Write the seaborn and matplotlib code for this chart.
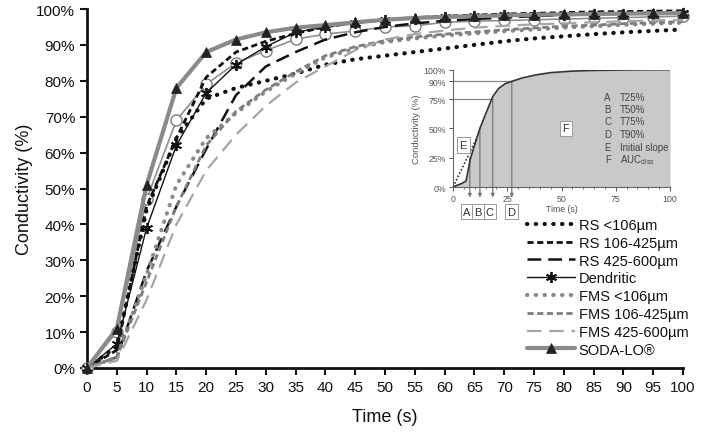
import numpy as np
import pandas as pd
import matplotlib
matplotlib.use("Agg")
import matplotlib.pyplot as plt
import seaborn as sns
from matplotlib.ticker import PercentFormatter, MultipleLocator

# ---------------- data ----------------
time_s = [0, 5, 10, 15, 20, 25, 30, 35, 40, 45, 50, 55, 60, 65, 70, 75, 80, 85, 90, 95, 100]

rs_lt106 = [0, 6, 44, 64, 75, 78, 80, 82, 84.5, 86, 87, 88, 89, 90, 91, 91.8, 92.4, 93, 93.5, 93.9, 94.3]
rs_106_425 = [0, 5, 45, 64, 81, 88, 91, 93.2, 95, 96.2, 97, 97.6, 98, 98.3, 98.6, 98.8, 99, 99.2, 99.3, 99.4, 99.5]
rs_425_600 = [0, 3, 27, 45, 61, 76, 84, 88, 91.5, 93.5, 95, 96, 96.7, 97.2, 97.6, 98, 98.3, 98.5, 98.7, 98.9, 99]
dendritic = [0, 6.7, 39, 62, 76.6, 84.5, 89.5, 93.5, 95, 96, 96.8, 97.3, 97.7, 98, 98.2, 98.3, 98.4, 98.5, 98.6, 98.7, 98.8]
fms_lt106 = [0, 3, 26, 51, 64, 71, 77, 82, 86.5, 89, 90.8, 91.8, 92.6, 93.2, 93.8, 94.3, 94.8, 95.2, 95.6, 95.9, 96.2]
fms_106_425 = [0, 3, 24, 45, 62, 71.5, 77.5, 82.5, 87, 89.5, 91.2, 92.2, 93, 93.6, 94.2, 94.7, 95.2, 95.5, 95.9, 96.2, 96.5]
fms_425_600 = [0, 2, 19, 40, 55, 65, 73, 79.5, 84, 88.5, 91.5, 93, 94, 94.8, 95.3, 95.7, 96, 96.3, 96.6, 96.8, 97]
soda_lo = [0, 11, 51, 78, 88, 91.5, 93.5, 94.8, 95.5, 96.3, 97, 97.5, 97.8, 98, 98.2, 98.4, 98.5, 98.6, 98.7, 98.8, 98.9]
open_circle = [0, 10, 47, 69, 79, 85, 88.4, 91.6, 93, 93.9, 95, 95.3, 96.3, 96.6, 96.8, 97, 97.2, 97.4, 97.6, 97.8, 98]

legend_labels = ["RS <106µm", "RS 106-425µm", "RS 425-600µm", "Dendritic",
                 "FMS <106µm", "FMS 106-425µm", "FMS 425-600µm", "SODA-LO®"]

x_ticks = list(range(0, 101, 5))
y_ticks = list(range(0, 101, 10))

# inset (schematic) data
inset_t = [0, 2, 4, 6, 8, 11, 12.4, 15, 18.3, 21, 24, 27, 32, 38, 45, 55, 65, 80, 100]
inset_v = [0, 1.5, 3, 5, 24, 42, 50, 62, 77, 84, 88, 90, 93, 95.5, 97.5, 98.8, 99.4, 99.8, 100]
slope_t = [0, 11]
slope_v = [0, 42]
inset_marks_t = [7.75, 12.4, 18.3, 27.1]
inset_marks_v = [25, 50, 75, 90]
inset_letters = ["A", "B", "C", "D"]
inset_box_x = [6.2, 11.6, 17.0, 27.0]
inset_key_letters = ["A", "B", "C", "D", "E", "F"]
inset_key_text = ["T25%", "T50%", "T75%", "T90%", "Initial slope", r"AUC$_{\mathregular{diss}}$"]
inset_key_y = [77, 66.5, 56, 45.3, 34.5, 24]
inset_xticks = [0, 25, 50, 75, 100]
inset_yticks = [0, 25, 50, 75, 90, 100]

# ---------------- style ----------------
sns.set_theme(style="ticks")
plt.rcParams["font.family"] = ["Liberation Sans", "DejaVu Sans"]

fig = plt.figure(figsize=(7.03, 4.35), dpi=100)
ax = fig.add_axes([87 / 703, 1 - 369 / 435, (683 - 87) / 703, (369 - 10) / 435])

black = "#111111"
series = [
    (rs_lt106, dict(color=black, lw=3.0, linestyle=(0, (0.1, 2.0)), dash_capstyle="round")),
    (rs_106_425, dict(color=black, lw=2.0, linestyle=(0, (2.2, 1.3)))),
    (rs_425_600, dict(color=black, lw=1.8, linestyle=(0, (5.5, 2.8)))),
    (dendritic, dict(color=black, lw=1.0, marker=(6, 2, 0), markersize=8, mew=1.3,
                     mec=black, mfc=black)),
    (fms_lt106, dict(color="#8a8a8a", lw=3.0, linestyle=(0, (0.1, 2.0)), dash_capstyle="round")),
    (fms_106_425, dict(color="#7d7d7d", lw=2.0, linestyle=(0, (2.2, 1.3)))),
    (fms_425_600, dict(color="#a5a5a5", lw=1.6, linestyle=(0, (6.5, 3.5)))),
    (soda_lo, dict(color="#8a8a8a", lw=3.0, marker="^", markersize=7, mfc="#222222",
                   mec="#222222", mew=0.5)),
]

handles = []
# unlabeled open-circle series drawn first
sns.lineplot(x=time_s, y=open_circle, ax=ax, color="#8f8f8f", lw=1.2, marker="o",
             markersize=8, mfc="white", mec="#7a7a7a", mew=1.0, clip_on=False, zorder=3)
for vals, kw in series:
    sns.lineplot(x=time_s, y=vals, ax=ax, clip_on=False, zorder=4, **kw)
    handles.append(ax.lines[-1])

ax.set_xlim(0, 100)
ax.set_ylim(0, 100)
ax.set_xticks(x_ticks)
ax.set_yticks(y_ticks)
ax.yaxis.set_major_formatter(PercentFormatter(decimals=0))
ax.tick_params(axis="both", labelsize=11, colors="#111111", length=5, width=1.5, direction="out")
for s in ["top", "right"]:
    ax.spines[s].set_visible(False)
for s in ["left", "bottom"]:
    ax.spines[s].set_linewidth(2)
    ax.spines[s].set_color("#111111")
ax.set_xlabel("Time (s)", fontsize=13, color="#111111", labelpad=10)
ax.set_ylabel("Conductivity (%)", fontsize=13, color="#111111", labelpad=2)

leg = ax.legend(handles=handles, labels=legend_labels, loc="upper left",
                bbox_to_anchor=(527 / 703, 1 - 219 / 435), bbox_transform=fig.transFigure,
                frameon=False, fontsize=10.5, labelspacing=0.26, handlelength=3.3,
                handletextpad=0.25, borderpad=0, borderaxespad=0)
for t in leg.get_texts():
    t.set_color("#111111")

# ---------------- inset ----------------
ia = fig.add_axes([453 / 703, 1 - 188 / 435, 217 / 703, (188 - 70.7) / 435])
ia.set_facecolor("none")
grey_txt = "#555555"
ia.fill_between(inset_t, inset_v, 0, color="#c9c9c9", lw=0, zorder=1)
sns.lineplot(x=inset_t, y=inset_v, ax=ia, color="#333333", lw=1.2, zorder=3)
sns.lineplot(x=slope_t, y=slope_v, ax=ia, color="#333333", lw=1.2,
             linestyle=(0, (1, 1.2)), zorder=3)
for xm, ym in zip(inset_marks_t, inset_marks_v):
    ia.annotate("", xy=(xm, -9), xytext=(xm, ym), xycoords="data",
                arrowprops=dict(arrowstyle="-|>", color="#777777", lw=0.9,
                                mutation_scale=5, shrinkA=0, shrinkB=0),
                annotation_clip=False, zorder=2)
for xm, ym in zip(inset_marks_t[2:], inset_marks_v[2:]):
    ia.plot([0, xm], [ym, ym], color="#888888", lw=0.9, zorder=2)
for bx, lt in zip(inset_box_x, inset_letters):
    ia.text(bx, -21, lt, ha="center", va="center", fontsize=8, color="#333333",
            bbox=dict(boxstyle="square,pad=0.2", fc="white", ec="#999999", lw=0.7),
            clip_on=False)
ia.text(4.7, 36, "E", ha="center", va="center", fontsize=8, color="#333333",
        bbox=dict(boxstyle="square,pad=0.25", fc="white", ec="#999999", lw=0.7), zorder=5)
ia.text(52, 50, "F", ha="center", va="center", fontsize=8, color="#333333",
        bbox=dict(boxstyle="square,pad=0.25", fc="white", ec="#999999", lw=0.7), zorder=5)
for ly, ll, lt in zip(inset_key_y, inset_key_letters, inset_key_text):
    ia.text(71.3, ly, ll, ha="center", va="center", fontsize=7, color="#444444")
    ia.text(77, ly, lt, ha="left", va="center", fontsize=7, color="#444444")

ia.set_xlim(0, 100)
ia.set_ylim(0, 100)
ia.set_xticks(inset_xticks)
ia.set_yticks(inset_yticks)
ia.xaxis.set_minor_locator(MultipleLocator(5))
ia.yaxis.set_major_formatter(PercentFormatter(decimals=0))
ia.tick_params(axis="both", which="major", labelsize=6.3, colors=grey_txt, length=3, width=0.7, pad=2)
ia.tick_params(axis="x", which="minor", length=1.5, width=0.6, colors=grey_txt)
for s in ["top", "right"]:
    ia.spines[s].set_visible(False)
for s in ["left", "bottom"]:
    ia.spines[s].set_color("#666666")
    ia.spines[s].set_linewidth(0.8)
ia.set_xlabel("Time (s)", fontsize=6.3, color=grey_txt, labelpad=1)
ia.set_ylabel("Conductivity (%)", fontsize=6.8, color=grey_txt, labelpad=2)

fig.savefig("out.png", dpi=100)
